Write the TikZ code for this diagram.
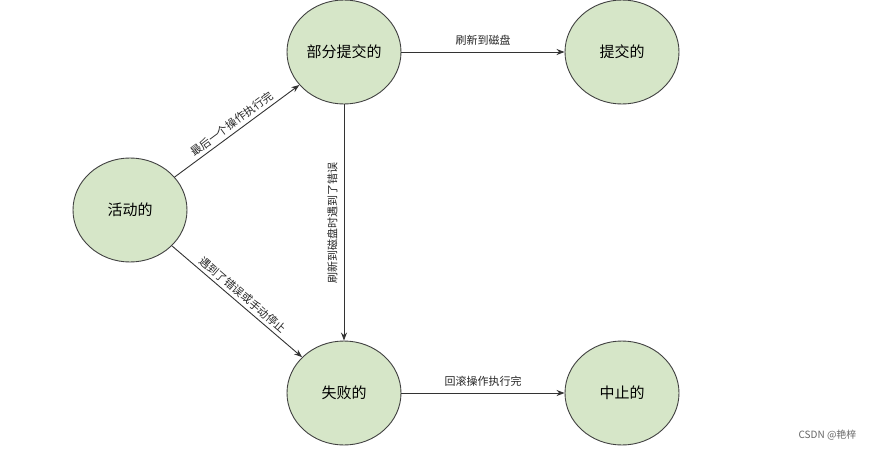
\documentclass[tikz,border=0pt]{standalone}
\usepackage{fontspec}
\setmainfont{Noto Sans CJK SC}
\usetikzlibrary{shapes.geometric,arrows.meta}
\begin{document}
\begin{tikzpicture}[x=1pt,y=-1pt,
  state/.style={ellipse,draw=black!75,line width=0.9pt,fill={rgb,255:red,214;green,230;blue,200},minimum width=114pt,minimum height=104pt,font=\fontsize{15}{17}\selectfont,inner sep=0pt},
  conn/.style={draw=black!80,line width=0.9pt,-{Stealth[length=8pt,width=6pt]}},
  lab/.style={font=\fontsize{11}{13}\selectfont,text=black!85}]
\useasboundingbox (0,0) rectangle (870,450);
\fill[white] (0,0) rectangle (870,450);
\node[state] (act) at (130,210) {活动的};
\node[state] (part) at (344,52) {部分提交的};
\node[state] (com) at (622,52) {提交的};
\node[state] (fail) at (344,393) {失败的};
\node[state] (abort) at (622,393) {中止的};
\draw[conn] (act) -- node[lab,sloped,above] {最后一个操作执行完} (part);
\draw[conn] (act) -- node[lab,sloped,above] {遇到了错误或手动停止} (fail);
\draw[conn] (part) -- node[lab,rotate=90,anchor=south,inner sep=6pt] {刷新到磁盘时遇到了错误} (fail);
\draw[conn] (part) -- node[lab,above=3pt] {刷新到磁盘} (com);
\draw[conn] (fail) -- node[lab,above=3pt] {回滚操作执行完} (abort);
\node[font=\fontsize{10}{12}\selectfont,text=black!60,anchor=east] (wm) at (860,435) {CSDN @艳梓};
\end{tikzpicture}
\end{document}
